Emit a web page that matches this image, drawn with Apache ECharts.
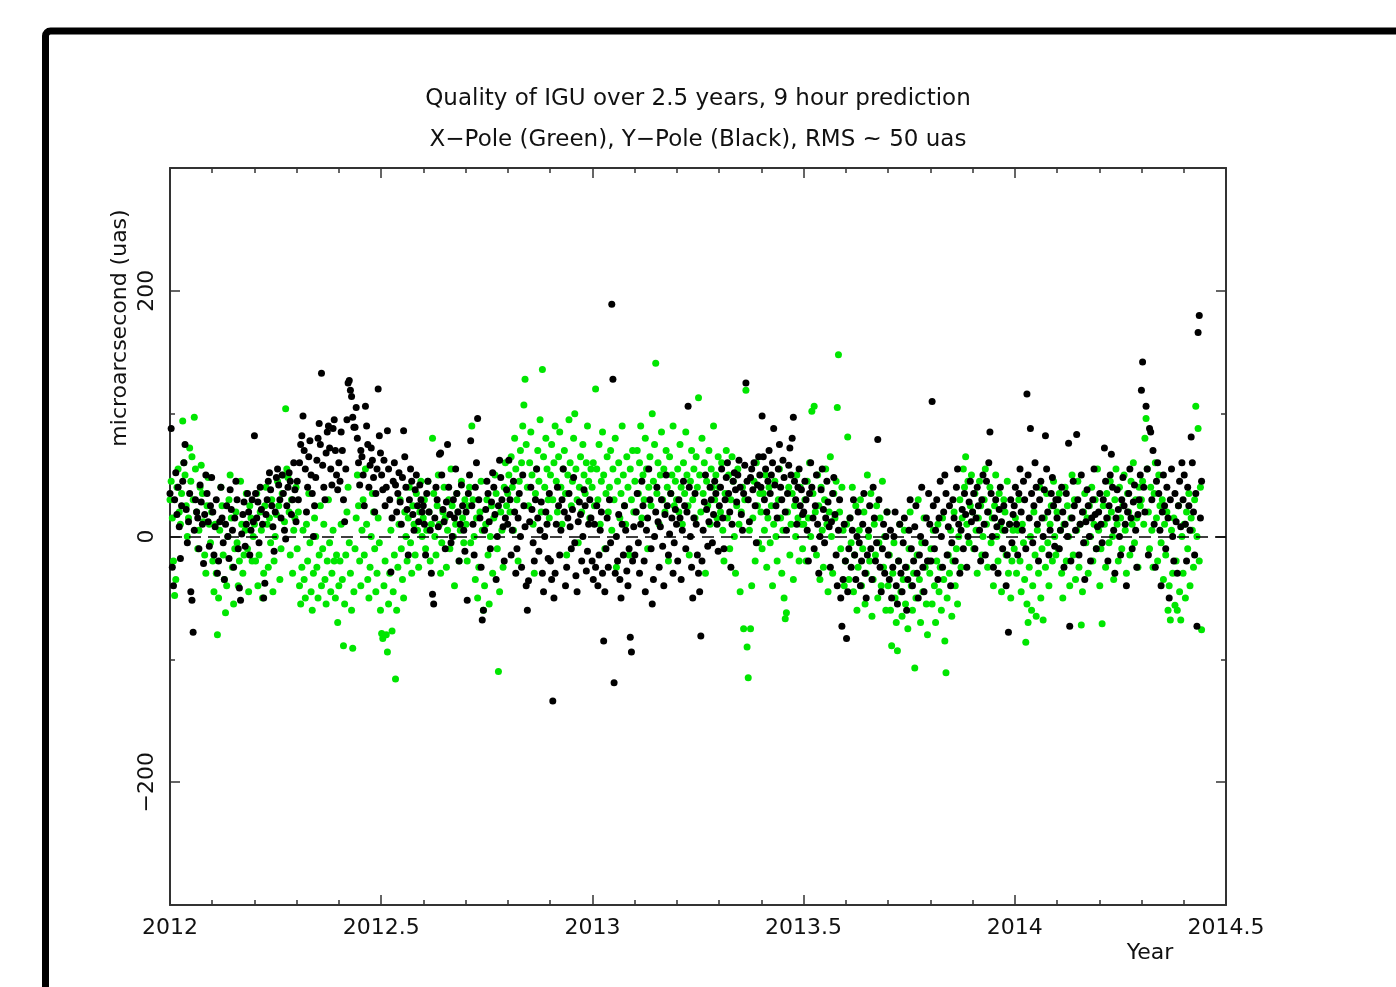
<!DOCTYPE html>
<html>
<head>
<meta charset="utf-8">
<title>Quality of IGU over 2.5 years</title>
<script src="https://cdn.jsdelivr.net/npm/echarts@6/dist/echarts.min.js"></script>
<style>
  html, body { margin: 0; padding: 0; background: #fff; }
  #chart { width: 1396px; height: 987px; }
</style>
</head>
<body>
<div id="chart"></div>
<script>
// daily samples, first one on 2012.0
const startYear = 2012.0;
const dayStep = 1 / 365.25;

// Y-pole (black), uas, one row ~ 0.1 year
const yPole2012a = [
  35, 88, -25, -40, 30, 52, 18, 40, 8, -18, 25, 45, 60, 75, 22, -5, 12, 35, -45, -52, -78, 5, 30, 20, 15, -10, 42, 28, 10, -22, 18, 50, 35, 12, -8, 25, 48,
  20, -15, 8, 30, -30, -20, 12, 40, 15, -5, -35, 10, 25, 0, -18, 38, 22, 5, -25, 15, 45, 30, -10, -42, -52, 2, 18, 28, -8, 10, 35, 20, -15, 5, 30, 12,
  82, 35, 15, 28, -5, 40, 22, 10, -50, -38, 18, 30, 45, 52, 38, 25, 8, -12, 20, 48, 55, 42, 30, 15, 50, 35, 5, -2, 25, 40, 52, 45, 18, 30, 60, 38, 12,
  45, 30, 60, 75, 82, 98, 70, 55, 20, 40, 65, 78, 50, 35, 0, 25, 48, 62, 80, 92, 75, 133, 58, 40, 30, 68, 85, 90, 72, 55, 42, 88, 95, 70, 50, 38,
  60, 45, 85, 70, 30, 12, 55, 95, 125, 127, 119, 114, 97, 89, 89, 105, 80, 60, 42, 70, 65, 50, 25, 106, 90, 75, 40, 58, 72, 62, 48, 20, 35, 55, 120, 82, 68
];
const yPole2012b = [
  50, 38, 62, 25, 40, 86, 55, 30, -29, 15, 45, 60, 42, 20, 35, 52, 28, 10, 48, 86, 65, 40, 22, -15, 30, 55, 45, 18, 5, 38, 50, 25, 12, 42, 30, 20,
  25, 10, -15, 35, 45, 20, 5, -30, -47, -55, 15, 40, 30, 8, 67, 68, 50, 22, 12, -10, 28, 75, 40, 18, -5, 0, 30, 15, 55, 35, 20, -20, 10, 42, 25, 5, -12,
  20, -52, 35, 50, 78, 25, 10, -15, 40, 60, 96, 30, 15, -25, -68, -60, 5, 22, 45, 35, 12, -10, 28, 52, 40, 18, -35, 0, 25, 62, 48, 30, 8, -20, 15, 38,
  10, 62, 30, -15, 5, 45, 20, -30, -10, 15, 35, 0, -25, 50, 25, 8, -40, -60, -36, 12, 40, 22, -5, -20, 30, 55, 15, -12, 5, 28, -30, -45, 0, 20, 10, -18, 35,
  -20, -35, -134, -50, -30, 10, 40, 25, -15, 5, 30, 55, 20, -40, -25, 15, 35, 8, -10, 22, 48, -5, -32, -45, 12, 28, 18, -20, 0, 38, 25, -28, -12, 10, 30, 15
];
const yPole2013a = [
  -20, -35, 10, -25, 25, -40, -15, 5, 20, -30, -85, -45, -10, 15, -25, 30, -5, 189, 128, -119, -30, 0, -20, 18, -35, -50, 10, -15, 25, 5, -28, -40, -10, -82, -94, -20, 8,
  -15, 20, 35, -5, -30, 10, 45, 25, -20, -45, 5, 15, 55, 30, -10, -55, -35, 0, 20, 40, 12, -25, 8, 30, -8, -40, 18, 50, 25, -15, 2, 35, 15, -30, -5, 22,
  10, -20, 30, 15, -35, 5, 45, 25, -10, 20, 106, 40, 0, -25, -50, 15, 35, 10, -15, -30, -45, -81, -20, 5, 28, 50, 22, -8, 12, 40, 30, -5, 18, 45, 35, 10, -12,
  25, 40, 55, 15, -10, 30, 48, 60, 35, 20, -25, 10, 45, 52, 38, 28, 50, 62, 40, 18, 5, 35, 58, 125, 45, 30, 12, 48, 55, 38, 60, 25, -5, 42, 65, 50,
  40, 98, 65, 30, 55, 20, 45, 70, 35, 50, 60, 88, 42, 25, 15, 55, 75, 40, 30, 62, 48, 20, 5, 35, 58, 72, 50, 80, 97, 45, 30, 10, 40, 55, 25, 38, 18
];
const yPole2013b = [
  20, 45, 30, 5, -20, 35, 60, 40, 15, -10, 25, 50, 10, -30, 0, 38, 55, 22, -5, 15, 45, 28, 8, -25, 12, 35, 48, 18, -15, -40, 5, 30, -50, -73, -35, 10,
  -20, -83, -45, -10, 15, -25, 5, 30, -15, -35, 0, 20, -5, -40, -20, 10, 35, -30, -50, -15, 5, 25, -10, -35, 40, 15, -20, -5, 79, 30, -25, -45, -10, 10, -30, 0, 20,
  -15, -35, 5, -50, -25, 0, 20, -40, -55, -20, 10, -30, -45, -5, 15, -25, -60, -35, 5, 30, -10, -40, -20, 8, 25, -30, -50, -15, 0, 40, -25, -45, -5, 15, -20, 35,
  10, -20, 110, 25, -10, 5, 30, -35, 15, 45, 0, -25, 20, 50, 35, -15, 8, 25, -40, -5, 30, 15, -20, 40, 55, 10, -30, 5, 22, -10, 35, 18, -25, 0, 28, 45, 12,
  20, 35, -10, 15, 40, 25, 5, -20, 30, 50, 10, -15, 45, 20, 60, 85, 35, 0, -25, 15, 30, 8, -30, 22, 40, 12, -10, 25, 5, -40, -15, -78, 10, 30, -5, 18
];
const yPole2014a = [
  25, 40, 10, -15, 35, 55, 20, 5, 45, 30, -10, 116, 50, 15, 88, 35, -5, 25, 60, 40, 10, -20, 30, 45, 15, 0, 38, 82, 55, 20, -15, 5, 35, 48, 25, -8, 30,
  15, 30, -10, 5, 40, 20, -25, 10, 35, 0, 76, -73, -20, 15, 45, 25, 5, 83, 30, -15, 10, 50, 20, -5, -35, 12, 38, 25, 0, -20, 15, 30, 55, 18, -10, 8,
  20, 35, 10, -5, 30, 72, 45, 15, -20, 25, 50, 67, 40, 5, -30, 15, 38, 22, 0, -15, 30, 48, 25, 10, -40, 20, 35, 55, 15, -10, 28, 42, 5, -25, 18, 30, 50,
  119, 142, 40, 20, 106, 55, -15, 88, 85, 30, 70, 10, -25, 45, 60, 35, 5, -40, 20, 50, 25, -10, 40, 15, -50, 30, 55, 0, -20, 35, 12, -30, 25, 45, 8, 60,
  30, 50, 10, -20, 40, 25, 5, 81, 60, 20, -15, 35, -73, 166, 180, 15, 45
];

// X-pole (green), uas
const xPole2012a = [
  30, 45, 15, -20, -48, -35, 40, 55, 20, 10, 35, 94, 60, 50, 25, 0, 15, 72, 45, 65, 30, 97, 55, 20, -10, 5, 40, 58, 35, 12, -15, -30, 25, 48, 10, -5, 20,
  -20, -45, 10, -30, -80, -50, 5, 40, 25, -15, -35, -62, -40, 0, 30, 50, 15, -25, -55, -10, 20, -5, -40, -20, 45, 10, -30, -15, 5, 35, -10, -45, 25, 15, -20, 0,
  10, -20, 35, -40, -15, 20, 5, -50, -30, 25, 40, 10, -25, 15, -5, 30, -45, -20, 0, 18, 45, 25, -35, -10, 35, 50, 12, 104, 55, 48, 20, -15, 30, -30, 5, 15, 40,
  -10, 20, -40, -55, -25, 5, -35, -50, 10, -20, 35, -5, -45, -60, -30, 15, 0, -25, -50, -15, 25, -40, -10, 10, -35, -55, -20, 30, -5, -45, -30, 5, -20, -50, -15, -70,
  -40, -20, 10, -35, -89, -55, -15, 20, 40, -5, -30, -60, -91, -45, -10, 15, 50, 25, -20, -40, 5, 30, -15, 55, 10, -35, -50, -25, 0, 35, 20, -10, -45, -30, 15, -5, -60
];
const xPole2012b = [
  -79, -83, -40, -20, -80, -94, -55, -30, 5, -77, -45, -15, -116, -60, -25, 10, 30, -10, -35, -50, 20, 0, -20, 15, 40, -5, -30, 25, 10, -15, 35, 5, -25, 20, 45, 0,
  15, 30, -10, 5, 45, 20, -20, 10, 80, 35, 0, -15, 25, 50, 10, -30, -5, 20, 40, 15, -25, 5, 30, -10, 55, 25, 0, -40, 10, 35, 20, -20, 5, 45, 15, -5, 30,
  10, -20, 25, 40, -5, 90, 30, 0, -35, 15, -50, -25, 20, 45, 5, -60, -40, 10, 30, -15, -55, 0, 25, -30, 15, 50, 35, -10, -110, -45, 20, 5, -25, 40, 60, 25,
  35, 50, 20, 65, 40, 5, 80, 55, 30, -20, 45, 70, 60, 90, 107, 128, 75, 40, 25, 60, 85, 50, 10, -30, 35, 55, 70, 45, 95, 20, 136, 65, 40, 80, 55, 30, 15,
  50, 75, 30, 60, 90, 45, 20, 65, 85, 40, 10, 55, 70, 35, -15, 50, 95, 60, 25, 45, 80, 100, 55, 30, -5, 40, 65, 20, 75, 50, 35, 60, 90, 45, 15, 55
];
const xPole2013a = [
  40, 60, 25, 120, 55, 30, 75, 10, 45, 85, 50, -10, 35, 65, 20, 40, 70, 5, 55, 30, 80, -25, 45, 60, 15, 35, 90, 50, 25, 10, 65, 40, -15, 55, 30, 70, 20,
  45, 20, 70, 35, 60, 90, 15, 50, 30, 80, 55, -10, 40, 65, 25, 100, 45, 75, 141, 35, 60, 10, 50, 85, 30, 55, 20, 70, 40, -20, 65, 35, 50, 90, 25, 45,
  30, 55, 20, 75, 40, 10, 60, 35, 85, 50, 25, -15, 45, 70, 30, 55, 15, 65, 40, 113, 50, 20, 80, 35, 60, -30, 45, 25, 70, 10, 55, 40, 90, 30, 50, 15, 65,
  40, 20, 60, 5, -20, 35, 70, 15, 50, -10, 30, 65, 45, 0, -30, 25, 55, 10, -45, 20, 40, -75, 30, 119, -90, -115, 5, -75, -40, 15, 45, -20, 60, 25, -5, 35,
  20, -10, 35, 5, 50, -25, 15, 40, -5, 25, -40, 10, 45, 0, -20, 30, 55, 15, -30, 5, -50, -67, -62, 20, 40, -15, 10, 35, -35, 25, 0, 50, 15, -20, 40, 10, -10
];
const xPole2013b = [
  10, 30, -20, 45, 15, 60, 0, 102, 35, 106, 20, -15, 50, 25, -35, 40, 5, -25, 30, 55, 10, -45, 20, 65, 0, -30, 35, 15, 45, 105, 148, 20, -10, 40, 5, -40,
  -20, 10, 81, -35, 15, -5, 40, -45, -15, 25, -60, -25, 5, 30, -40, -10, 20, -55, -30, 50, 0, -20, 35, -65, -35, 10, -15, 25, -50, -5, 15, -40, 45, -25, 0, -60, 20,
  -40, -15, -60, -89, -30, -5, -50, -70, -93, -20, 10, -45, -65, -35, 5, -55, -25, -75, -10, 20, -40, -60, -30, -107, -50, -15, 30, -35, -70, -5, -45, 15, -25, -55, -80, -20,
  -30, -10, -55, 5, -40, -70, -20, 10, -45, -25, -60, 15, -35, -85, -111, -50, -15, -30, 5, -65, -20, 20, -40, -10, -55, 0, 30, -25, 15, 55, 40, 65, 10, 45, -5, 25, 50,
  20, -10, 35, 5, -30, 15, 45, 25, -15, 0, 30, 55, 10, -25, 20, 40, -5, 15, -40, 25, 50, 0, -20, 35, 10, -45, 5, 30, 20, -15, 45, -30, 10, -50, -20, 5
];
const xPole2014a = [
  -10, 15, -30, 5, 30, -20, -45, 10, -5, -35, -86, -55, -70, -25, 0, -60, -40, 20, -15, -65, 5, -30, 40, -50, -10, -68, 15, -25, 35, -5, -40, 10, 25, -20, 45, 0, -15,
  20, -10, 35, 5, -30, -50, 10, 40, -20, 25, 0, -40, 15, 50, -15, 30, -35, 5, 45, -25, 10, -72, -45, 20, 35, -5, 15, -30, 25, 0, 40, -20, 10, 30, -10, 55,
  5, -40, -10, -71, 25, 10, -25, 35, 15, -5, 45, 20, 0, -35, 30, 55, 10, -20, 40, 15, -10, 25, 50, 5, -30, 35, 20, -15, 45, 10, 60, -5, 30, 15, -25, 40, 25,
  30, 45, 10, 80, 96, 55, 20, -10, 40, 5, -25, 35, 60, 15, -20, 50, 25, -5, 30, -35, 10, -15, 20, -60, -40, -68, 5, -30, 15, -56, -20, -60, 25, -45, -68, 0,
  -30, 10, -50, 20, -10, 35, -40, 15, 5, -25, 30, 106, 0, 88, -20, 40, -76
];

// axis ticks
const yearTicks = [2012, 2012.5, 2013, 2013.5, 2014, 2014.5];
const yLabelValues = [-200, 0, 200];

const yPole = [].concat(yPole2012a, yPole2012b, yPole2013a, yPole2013b, yPole2014a);
const xPole = [].concat(xPole2012a, xPole2012b, xPole2013a, xPole2013b, xPole2014a);

function toPoints(vals) {
  return vals.map((v, i) => [startYear + i * dayStep, v]);
}

const FONT = 'DejaVu Sans';
const AXIS_COLOR = '#333';

function xAxisCfg(pos, showLabel) {
  return {
    type: 'value',
    position: pos,
    min: yearTicks[0],
    max: yearTicks[yearTicks.length - 1],
    interval: 0.5,
    axisLine: { show: true, onZero: false, lineStyle: { color: AXIS_COLOR, width: 2 } },
    axisTick: { show: true, inside: true, length: 10, lineStyle: { color: AXIS_COLOR, width: 1.5 } },
    minorTick: { show: true, splitNumber: 5, length: 5, lineStyle: { color: AXIS_COLOR, width: 1.5 } },
    axisLabel: {
      show: showLabel, margin: 12, color: '#111', fontSize: 22, fontFamily: FONT,
      formatter: v => String(+v.toFixed(1))
    },
    splitLine: { show: false },
    minorSplitLine: { show: false }
  };
}

// short ticks every 100
function yAxisShort(pos, showLabel) {
  return {
    type: 'value',
    position: pos,
    min: -300,
    max: 300,
    interval: 100,
    axisLine: { show: true, onZero: false, lineStyle: { color: AXIS_COLOR, width: 2 } },
    axisTick: { show: true, inside: true, length: 5, lineStyle: { color: AXIS_COLOR, width: 1.5 } },
    axisLabel: {
      show: showLabel, rotate: 90, margin: 12, color: '#111', fontSize: 22, fontFamily: FONT,
      formatter: v => yLabelValues.indexOf(v) >= 0 ? String(v).replace('-', '\u2212') : ''
    },
    splitLine: { show: false }
  };
}

// long ticks at labelled values
function yAxisLong(pos) {
  return {
    type: 'value',
    position: pos,
    offset: 0,
    min: -300,
    max: 300,
    axisLine: { show: false },
    axisTick: { show: true, inside: true, length: 10, customValues: yLabelValues, lineStyle: { color: AXIS_COLOR, width: 1.5 } },
    axisLabel: { show: false },
    splitLine: { show: false }
  };
}

const chart = echarts.init(document.getElementById('chart'), null, { renderer: 'canvas' });

chart.setOption({
  animation: false,
  backgroundColor: '#fff',
  title: {
    text: 'Quality of IGU over 2.5 years, 9 hour prediction\nX\u2212Pole (Green), Y\u2212Pole (Black), RMS ~ 50 uas',
    left: 'center',
    top: 74,
    textStyle: { fontFamily: FONT, fontSize: 23, fontWeight: 'normal', color: '#111', lineHeight: 41 }
  },
  grid: { left: 170, top: 168, right: 170, bottom: 82, containLabel: false },
  xAxis: [xAxisCfg('bottom', true), xAxisCfg('top', false)],
  yAxis: [yAxisShort('left', true), yAxisLong('left'), yAxisShort('right', false), yAxisLong('right')],
  graphic: [
    {
      type: 'rect', silent: true,
      shape: { x: 45.5, y: 31, width: 1500, height: 1100, r: 5 },
      style: { fill: 'none', stroke: '#000', lineWidth: 7 }
    },
    {
      type: 'text', silent: true,
      x: 120, y: 328, rotation: Math.PI / 2,
      style: { text: 'microarcsecond (uas)', fontFamily: FONT, fontSize: 22, fill: '#111', align: 'center', verticalAlign: 'middle' }
    },
    {
      type: 'text', silent: true,
      x: 1150, y: 953,
      style: { text: 'Year', fontFamily: FONT, fontSize: 22, fill: '#111', align: 'center', verticalAlign: 'middle' }
    }
  ],
  series: [
    {
      name: 'X-Pole',
      type: 'scatter',
      xAxisIndex: 0, yAxisIndex: 0,
      symbolSize: 7,
      itemStyle: { color: '#00e600', opacity: 1 },
      data: toPoints(xPole),
      markLine: {
        silent: true, symbol: 'none', label: { show: false },
        lineStyle: { color: '#000', type: [12, 7], width: 1.5 },
        data: [{ yAxis: 0 }]
      }
    },
    {
      name: 'Y-Pole',
      type: 'scatter',
      xAxisIndex: 0, yAxisIndex: 0,
      symbolSize: 7,
      itemStyle: { color: '#000', opacity: 1 },
      data: toPoints(yPole)
    }
  ]
});
</script>
</body>
</html>
